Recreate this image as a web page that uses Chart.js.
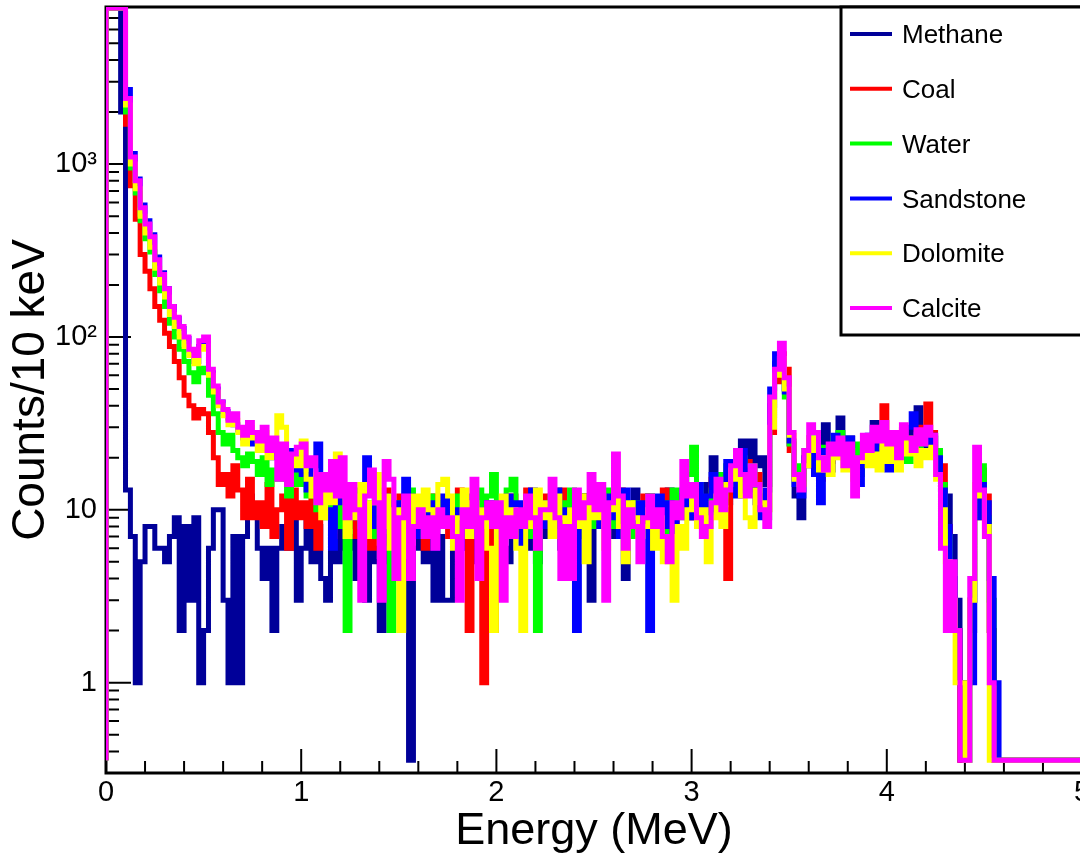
<!DOCTYPE html>
<html>
  <head>
    <title>Energy spectra by material</title>
    <script src="https://cdn.jsdelivr.net/npm/chart.js"></script>
    <style>html, body { margin: 0; background: #fff; overflow: hidden; }</style>
  </head>
  <body>
    <!-- a little wider than the window: the right frame edge falls just outside, as in the original -->
    <canvas id="spectrum" width="1084" height="859"></canvas>
    <script>
      // histogram bins, 25 keV wide, counts per 10 keV
      const binWidth = 0.025;
      const xTickValues = [0, 1, 2, 3, 4, 5];
      const yTickValues = [1, 10, 100, 1000];
      const yTickLabels = ["1", "10", "10²", "10³"];
      const materials = ["Methane", "Coal", "Water", "Sandstone", "Dolomite", "Calcite"];

      const methane = [
        8000, 8000, 8000, 2000, 13, 7, 1, 5, 8, 8, 6, 6, 5, 7, 9, 2, 8, 3, 9, 1,
        2, 6, 10, 10, 3, 1, 7, 1, 7, 12, 10, 6, 4, 6, 2, 6, 8, 6, 9, 3,
        6, 9, 5, 8, 4, 3, 7, 5, 8, 6, 7, 4, 8, 3, 6, 5, 2, 7, 5, 8,
        6, 5, 0, 6, 8, 5, 9, 3, 7, 3, 3, 7, 9, 6, 10, 5, 8, 6, 9, 7,
        8, 6, 5, 9, 7, 10, 6, 8, 5, 9, 7, 10, 8, 6, 9, 11, 7, 9, 12, 3,
        8, 11, 9, 12, 7, 10, 4, 9, 13, 8, 10, 12, 7, 11, 9, 13, 8, 10, 12, 9,
        11, 9, 14, 12, 20, 10, 15, 11, 13, 17, 25, 16, 25, 18, 20, 14, 40, 70, 75, 50,
        24, 12, 9, 18, 22, 16, 20, 31, 17, 22, 34, 21, 26, 18, 23, 20, 25, 32, 22, 27,
        23, 28, 25, 21, 27, 29, 39, 24, 22, 26, 20, 14, 12, 7, 3, 0, 1, 2, 11, 14,
        9, 2, 0, 0, 0, 0, 0, 0, 0, 0, 0, 0, 0, 0, 0, 0, 0, 0, 0, 0
      ];
      const coal = [
        8000, 8000, 8000, 8000, 1700, 750, 480, 300, 240, 190, 150, 125, 105, 88, 72, 58, 46, 40, 34, 38,
        36, 28, 20, 14, 16, 12, 18, 13, 9, 15, 9, 11, 8, 14, 7, 10, 12, 6, 13, 9,
        11, 8, 13, 6, 10, 12, 7, 9, 14, 8, 10, 7, 12, 9, 6, 11, 8, 13, 10, 7,
        12, 9, 11, 7, 10, 6, 8, 12, 9, 11, 7, 10, 13, 8, 2, 9, 11, 1, 10, 2,
        8, 11, 9, 12, 7, 10, 13, 8, 11, 9, 12, 8, 10, 13, 9, 11, 7, 10, 12, 8,
        11, 9, 12, 8, 10, 13, 9, 11, 7, 10, 12, 8, 10, 9, 13, 11, 7, 10, 12, 9,
        10, 13, 9, 11, 15, 12, 10, 4, 14, 18, 15, 19, 13, 16, 12, 10, 28, 55, 80, 65,
        22, 16, 14, 20, 24, 18, 15, 21, 19, 23, 21, 25, 19, 23, 17, 24, 20, 26, 22, 40,
        24, 27, 21, 29, 23, 26, 30, 25, 41, 28, 22, 18, 8, 3, 2, 0, 1, 3, 9, 17,
        12, 2, 0, 0, 0, 0, 0, 0, 0, 0, 0, 0, 0, 0, 0, 0, 0, 0, 0, 0
      ];
      const water = [
        8000, 8000, 8000, 8000, 2000, 950, 680, 470, 370, 310, 230, 185, 150, 120, 100, 85, 72, 62, 55, 66,
        62, 46, 36, 28, 24, 27, 22, 20, 18, 21, 19, 16, 20, 14, 17, 15, 18, 12, 16, 14,
        17, 12, 15, 10, 13, 9, 12, 8, 11, 2, 10, 13, 8, 11, 7, 12, 9, 6, 2, 10,
        11, 8, 13, 9, 7, 10, 12, 8, 11, 9, 10, 7, 12, 9, 11, 8, 13, 10, 12, 16,
        11, 9, 13, 15, 8, 10, 7, 11, 2, 9, 10, 12, 8, 11, 9, 13, 7, 10, 12, 8,
        11, 9, 13, 8, 10, 12, 9, 7, 11, 10, 9, 12, 8, 10, 11, 7, 13, 9, 12, 16,
        23, 14, 11, 9, 13, 16, 12, 18, 14, 17, 20, 15, 18, 12, 10, 9, 35, 62, 68, 45,
        24, 18, 15, 22, 25, 19, 16, 23, 21, 26, 28, 21, 18, 24, 16, 22, 26, 20, 29, 23,
        25, 21, 27, 23, 19, 26, 22, 28, 24, 26, 22, 14, 7, 4, 2, 1, 0, 3, 10, 18,
        9, 3, 0, 0, 0, 0, 0, 0, 0, 0, 0, 0, 0, 0, 0, 0, 0, 0, 0, 0
      ];
      const sandstone = [
        8000, 8000, 8000, 8000, 2700, 1150, 820, 580, 470, 390, 290, 235, 190, 150, 128, 112, 98, 84, 72, 88,
        92, 62, 50, 42, 37, 34, 31, 29, 26, 28, 24, 28, 22, 25, 20, 23, 18, 22, 17, 20,
        16, 13, 18, 24, 15, 10, 6, 13, 11, 9, 12, 9, 11, 20, 14, 8, 10, 12, 7, 11,
        9, 15, 12, 7, 10, 8, 11, 6, 9, 12, 8, 10, 6, 9, 12, 7, 10, 8, 11, 9,
        7, 10, 12, 8, 11, 6, 9, 13, 10, 8, 11, 9, 13, 8, 10, 7, 2, 11, 9, 12,
        10, 8, 12, 9, 11, 7, 13, 10, 8, 11, 9, 2, 10, 12, 8, 11, 7, 10, 13, 9,
        11, 14, 9, 12, 16, 10, 13, 19, 15, 12, 22, 17, 14, 11, 9, 13, 50, 80, 70, 48,
        25, 14, 12, 20, 26, 16, 11, 22, 19, 27, 24, 20, 26, 18, 14, 22, 27, 20, 29, 24,
        17, 26, 22, 28, 30, 36, 25, 28, 24, 27, 20, 13, 8, 4, 2, 1, 0, 1, 9, 14,
        11, 4, 1, 0, 0, 0, 0, 0, 0, 0, 0, 0, 0, 0, 0, 0, 0, 0, 0, 0
      ];
      const dolomite = [
        8000, 8000, 8000, 8000, 2200, 1000, 720, 500, 400, 330, 250, 205, 170, 135, 115, 100, 88, 78, 70, 85,
        88, 60, 48, 40, 35, 31, 33, 28, 24, 30, 26, 22, 28, 20, 24, 35, 30, 15, 20, 18,
        25, 15, 12, 16, 9, 14, 11, 21, 13, 7, 12, 9, 14, 7, 11, 16, 8, 12, 6, 10,
        2, 11, 8, 12, 9, 13, 10, 8, 14, 15, 12, 6, 9, 13, 7, 11, 8, 10, 6, 2,
        9, 12, 7, 10, 6, 2, 11, 8, 13, 9, 11, 7, 12, 9, 6, 10, 8, 12, 5, 11,
        9, 12, 6, 10, 13, 8, 5, 11, 9, 7, 8, 10, 6, 9, 5, 7, 3, 8, 6, 10,
        12, 8, 10, 5, 9, 12, 8, 14, 17, 15, 12, 9, 8, 13, 11, 10, 30, 60, 75, 50,
        27, 15, 14, 18, 26, 22, 17, 20, 16, 22, 20, 17, 22, 15, 19, 24, 18, 21, 17, 25,
        19, 23, 17, 25, 21, 24, 18, 22, 20, 23, 15, 10, 5, 3, 1, 1, 0, 3, 14, 12,
        8, 0, 0, 0, 0, 0, 0, 0, 0, 0, 0, 0, 0, 0, 0, 0, 0, 0, 0, 0
      ];
      const calcite = [
        8000, 8000, 8000, 8000, 2400, 1100, 800, 560, 450, 380, 280, 230, 190, 150, 130, 115, 100, 85, 78, 95,
        100, 65, 52, 42, 38, 33, 36, 30, 27, 32, 28, 25, 30, 22, 26, 15, 24, 14, 21, 23,
        24, 18, 20, 11, 16, 13, 19, 12, 20, 9, 14, 10, 3, 12, 17, 11, 3, 19, 15, 4,
        9, 12, 4, 8, 10, 7, 9, 6, 10, 8, 9, 7, 3, 10, 8, 15, 4, 9, 11, 8,
        11, 3, 9, 7, 10, 8, 12, 9, 6, 10, 10, 15, 9, 4, 8, 4, 13, 9, 11, 16,
        10, 14, 3, 11, 21, 12, 6, 10, 8, 5, 9, 12, 8, 10, 7, 5, 11, 9, 19, 12,
        14, 9, 7, 8, 11, 15, 10, 13, 18, 22, 16, 12, 18, 14, 10, 8, 45, 65, 92, 58,
        28, 16, 13, 22, 31, 28, 20, 17, 24, 21, 26, 18, 24, 12, 20, 27, 22, 30, 25, 32,
        24, 28, 20, 31, 26, 22, 29, 24, 30, 27, 16, 6, 2, 5, 2, 0, 0, 4, 23, 13,
        7, 1, 0, 0, 0, 0, 0, 0, 0, 0, 0, 0, 0, 0, 0, 0, 0, 0, 0, 0
      ];

      const series = [methane, coal, water, sandstone, dolomite, calcite];
      const colors = ["#000099", "#ff0000", "#00ff00", "#0000ff", "#ffff00", "#ff00ff"];

      const yMin = 0.34, yMax = 8110;
      const zeroLevel = 0.355; // empty bins sit on the bottom of the frame, as in ROOT

      // step histogram: one point per bin low edge, closed down to the floor at both ends
      function histPoints(counts) {
        const pts = [{x: 0, y: zeroLevel}];
        counts.forEach((c, i) => pts.push({x: i * binWidth, y: c > 0 ? c : zeroLevel}));
        pts.push({x: counts.length * binWidth, y: zeroLevel});
        return pts;
      }

      // frame and inward ticks, drawn under the histograms
      const frame = {
        id: "frame",
        beforeDatasetsDraw(chart) {
          const {ctx, chartArea: a, scales: {x, y}} = chart;
          ctx.save();
          ctx.strokeStyle = "#000";
          ctx.lineWidth = 2;
          ctx.beginPath();
          for (let k = 0; k <= 25; k++) {
            const px = x.getPixelForValue(k * 0.2);
            ctx.moveTo(px, a.bottom);
            ctx.lineTo(px, a.bottom - (k % 5 === 0 ? 24 : 12));
          }
          for (let e = -1; e <= 3; e++) {
            for (let m = 1; m <= 9; m++) {
              const v = m * Math.pow(10, e);
              if (v < y.min || v > y.max) continue;
              const py = y.getPixelForValue(v);
              ctx.moveTo(a.left, py);
              ctx.lineTo(a.left + (m === 1 ? 25 : 13), py);
            }
          }
          ctx.stroke();
          ctx.lineWidth = 3;
          ctx.strokeRect(a.left, a.top, a.right - a.left, a.bottom - a.top);
          ctx.restore();
        }
      };

      // boxed legend in the top right corner, running off the right edge
      const legendBox = {
        id: "legendBox",
        afterDraw(chart) {
          const ctx = chart.ctx;
          ctx.save();
          ctx.fillStyle = "#fff";
          ctx.fillRect(841, 7, 260, 328);
          ctx.strokeStyle = "#000";
          ctx.lineWidth = 3;
          ctx.strokeRect(841, 7, 260, 328);
          ctx.font = "26px 'Liberation Sans', Arial, sans-serif";
          ctx.textBaseline = "middle";
          chart.data.datasets.forEach((ds, i) => {
            const yy = 34 + i * 54.8;
            ctx.strokeStyle = ds.borderColor;
            ctx.lineWidth = 4;
            ctx.beginPath();
            ctx.moveTo(850, yy);
            ctx.lineTo(892, yy);
            ctx.stroke();
            ctx.fillStyle = "#000";
            ctx.fillText(ds.label, 902, yy + 2);
          });
          ctx.restore();
        }
      };

      Chart.defaults.font.family = "'Liberation Sans', Arial, sans-serif";
      Chart.defaults.color = "#000";

      new Chart(document.getElementById("spectrum"), {
        type: "line",
        data: {
          datasets: series.map((s, i) => ({
            label: materials[i],
            data: histPoints(s),
            borderColor: colors[i],
            backgroundColor: colors[i],
            borderWidth: 5,
            stepped: "before",
            pointRadius: 0,
            fill: false,
            order: series.length - 1 - i
          }))
        },
        options: {
          responsive: false,
          animation: false,
          layout: {padding: {top: 7, right: 2, bottom: 0, left: 0}},
          plugins: {legend: {display: false}, tooltip: {enabled: false}},
          scales: {
            x: {
              type: "linear",
              min: 0,
              max: 5,
              grid: {display: false, drawTicks: false},
              border: {display: false},
              afterBuildTicks(scale) { scale.ticks = xTickValues.map(v => ({value: v})); },
              ticks: {padding: 3, font: {size: 29}, maxRotation: 0, autoSkip: false,
                      callback: (v) => String(v)},
              title: {display: true, text: "Energy (MeV)", font: {size: 45}, padding: 0},
              afterFit(scale) { scale.height = 86; scale.paddingLeft = 0; scale.paddingRight = 0; }
            },
            y: {
              type: "logarithmic",
              min: yMin,
              max: yMax,
              grid: {display: false, drawTicks: false},
              border: {display: false},
              afterBuildTicks(scale) { scale.ticks = yTickValues.map(v => ({value: v})); },
              ticks: {padding: 9, font: {size: 29}, autoSkip: false,
                      callback: (v, i) => yTickLabels[i]},
              title: {display: true, text: "Counts/10 keV", font: {size: 46}, padding: {top: 4, bottom: 0}},
              afterFit(scale) { scale.width = 106; scale.paddingTop = 0; scale.paddingBottom = 0; }
            }
          }
        },
        plugins: [frame, legendBox]
      });
    </script>
  </body>
</html>
